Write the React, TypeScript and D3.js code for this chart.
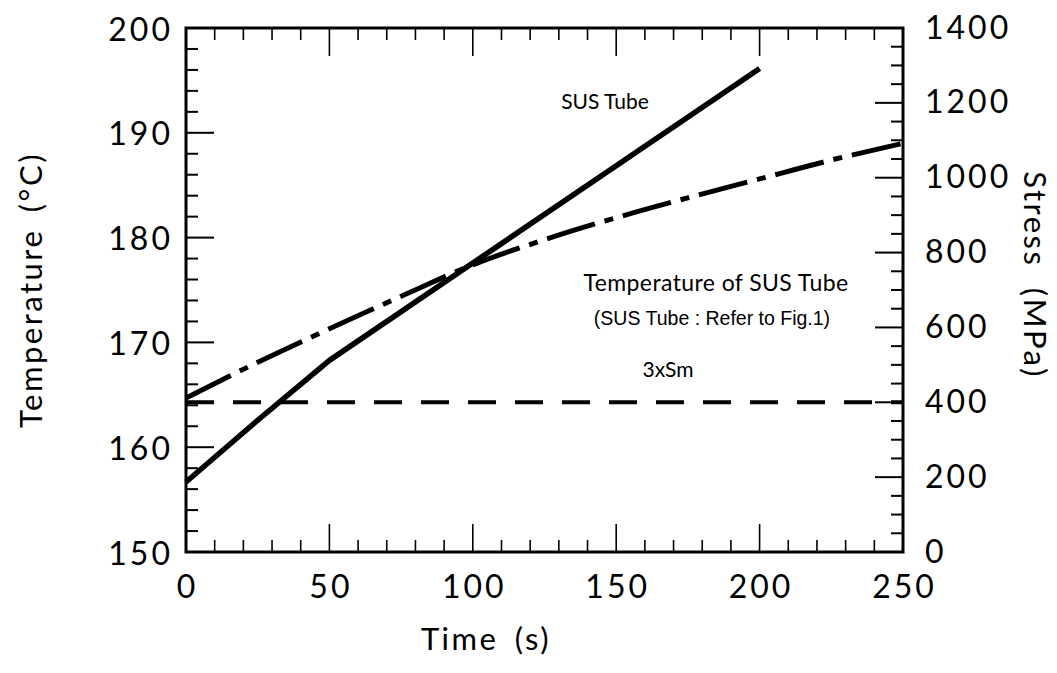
import React from "react";
import * as d3 from "d3";

// Time axis (s)
const timeTicks = [0, 50, 100, 150, 200, 250];
// Left axis: temperature (°C)
const tempTicks = [150, 160, 170, 180, 190, 200];
// Right axis: stress (MPa)
const stressTicks = [0, 200, 400, 600, 800, 1000, 1200, 1400];

// Stress of the SUS tube (MPa) vs time (s)
const stressTime = [0, 25, 50, 100, 150, 200];
const stressValues = [187, 352, 512, 772, 1032, 1292];

// Temperature of the SUS tube (°C) vs time (s)
const tempTime = [0, 25, 50, 75, 100, 125, 150, 175, 200, 225, 250];
const tempValues = [164.7, 168.1, 171.3, 174.4, 177.4, 179.8, 181.9, 183.8, 185.6, 187.4, 189.0];

// Allowable stress limit 3xSm (MPa)
const limitStress = 400;

const W = 1057;
const H = 673;
const M = { left: 186, right: 903, top: 28, bottom: 552 };
const FONT = "Lato, 'Open Sans', sans-serif";

export default function App() {
  const x = d3.scaleLinear().domain([0, 250]).range([M.left, M.right]);
  const yT = d3.scaleLinear().domain([150, 200]).range([M.bottom, M.top]);
  const yS = d3.scaleLinear().domain([0, 1400]).range([M.bottom, M.top]);

  const stressLine = d3
    .line<number>()
    .x((_, i) => x(stressTime[i]))
    .y((d) => yS(d));
  const tempLine = d3
    .line<number>()
    .x((_, i) => x(tempTime[i]))
    .y((d) => yT(d))
    .curve(d3.curveMonotoneX);

  const majorLen = 28;
  const minorLen = 12;

  const xMinor = d3.range(0, 251, 10);
  const tMinor = d3.range(150, 201, 2);
  const sMinor = d3.range(0, 1401, 50);

  const tick = "#000";

  return (
    <svg width={W} height={H} style={{ display: "block", position: "absolute", left: 0, top: 0, background: "#fff" }}>
      <rect width={W} height={H} fill="#fff" />
      {/* frame */}
      <rect x={M.left} y={M.top} width={M.right - M.left} height={M.bottom - M.top} fill="none" stroke="#000" strokeWidth={3} />

      {/* bottom and top ticks */}
      {xMinor.map((v) => {
        const major = v % 50 === 0;
        const len = major ? majorLen : minorLen;
        return (
          <g key={"x" + v}>
            <line x1={x(v)} x2={x(v)} y1={M.bottom} y2={M.bottom - len} stroke={tick} strokeWidth={1.6} />
            <line x1={x(v)} x2={x(v)} y1={M.top} y2={M.top + len} stroke={tick} strokeWidth={1.6} />
          </g>
        );
      })}
      {/* left ticks */}
      {tMinor.map((v) => {
        const major = v % 10 === 0;
        return (
          <line key={"t" + v} x1={M.left} x2={M.left + (major ? majorLen : minorLen)} y1={yT(v)} y2={yT(v)} stroke={tick} strokeWidth={2} />
        );
      })}
      {/* right ticks */}
      {sMinor.map((v) => {
        const major = v % 200 === 0;
        return (
          <line key={"s" + v} x1={M.right} x2={M.right - (major ? majorLen : minorLen)} y1={yS(v)} y2={yS(v)} stroke={tick} strokeWidth={2} />
        );
      })}

      {/* tick labels */}
      <g fontFamily={FONT} fontSize={32} fill="#000" letterSpacing={3}>
        {timeTicks.map((v) => (
          <text key={"xl" + v} x={x(v) + 1.5} y={M.bottom + 33} textAnchor="middle" dominantBaseline="central">
            {v}
          </text>
        ))}
        {tempTicks.map((v) => (
          <text key={"tl" + v} x={M.left - 13} y={yT(v)} textAnchor="end" dominantBaseline="central">
            {v}
          </text>
        ))}
        {stressTicks.map((v) => (
          <text key={"sl" + v} x={M.right + 22} y={yS(v) - 2} textAnchor="start" dominantBaseline="central">
            {v}
          </text>
        ))}
      </g>

      {/* axis titles */}
      <g fontFamily={FONT} fontSize={31} fill="#000" letterSpacing={2.5}>
        <text x={486} y={638} textAnchor="middle" dominantBaseline="central" wordSpacing={6}>
          Time (s)
        </text>
        <text transform={`translate(30, ${(M.top + M.bottom) / 2}) rotate(-90)`} textAnchor="middle" dominantBaseline="central" wordSpacing={6}>
          Temperature (°C)
        </text>
        <text transform={`translate(1036, ${(M.top + M.bottom) / 2 - 15}) rotate(90)`} textAnchor="middle" dominantBaseline="central" wordSpacing={10}>
          Stress (MPa)
        </text>
      </g>

      {/* 3xSm limit */}
      <line x1={M.left} x2={M.right} y1={yS(limitStress)} y2={yS(limitStress)} stroke="#000" strokeWidth={4} strokeDasharray="28 19" />

      {/* temperature of SUS tube */}
      <path d={tempLine(tempValues) ?? ""} fill="none" stroke="#000" strokeWidth={5} strokeDasharray="50 10 9 10" />

      {/* stress of SUS tube */}
      <path d={stressLine(stressValues) ?? ""} fill="none" stroke="#000" strokeWidth={5.5} strokeLinejoin="round" />

      {/* annotations */}
      <g fontFamily={FONT} fill="#000">
        <text x={605} y={100} fontSize={21} textAnchor="middle" dominantBaseline="central">SUS Tube</text>
        <text x={716} y={282} fontSize={23} textAnchor="middle" dominantBaseline="central" letterSpacing={0.4}>Temperature of SUS Tube</text>
        <text x={712} y={318} fontSize={19.5} textAnchor="middle" dominantBaseline="central" fontFamily="'Liberation Sans Narrow', 'Liberation Sans', sans-serif">(SUS Tube : Refer to Fig.1)</text>
        <text x={668} y={368} fontSize={21} textAnchor="middle" dominantBaseline="central">3xSm</text>
      </g>
    </svg>
  );
}
